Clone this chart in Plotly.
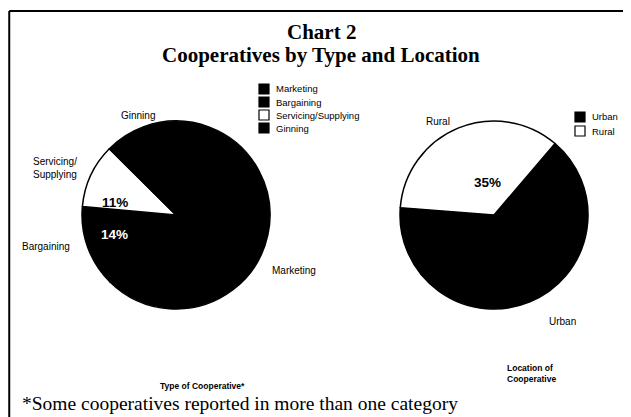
import plotly.graph_objects as go

# page is shown with the browser's 8px body margin, so the figure is laid
# out in window pixels and shifted by that margin
OFF = 8
W, H = 631 - OFF, 417 - OFF

# left pie: type of cooperative
type_labels = ['Marketing', 'Bargaining', 'Servicing/Supplying', 'Ginning']
type_values = [68, 14, 11, 7]
type_pct_text = ['', '14%', '11%', '']
type_colors = ['#000000', '#000000', '#ffffff', '#000000']
type_text_colors = ['#ffffff', '#ffffff', '#000000', '#ffffff']

# right pie: location of cooperative
loc_labels = ['Urban', 'Rural']
loc_values = [65, 35]
loc_pct_text = ['', '35%']
loc_colors = ['#000000', '#ffffff']
loc_text_colors = ['#ffffff', '#000000']


def px(x):
    return (x - OFF) / W


def py(y):
    return 1 - (y - OFF) / H


SANS = 'Arial, Liberation Sans, sans-serif'
SERIF = 'Times New Roman, Liberation Serif, serif'

fig = go.Figure()
fig.add_trace(go.Pie(
    labels=type_labels, values=type_values, sort=False,
    direction='clockwise', rotation=-20,
    marker=dict(colors=type_colors, line=dict(color='#000000', width=1.5)),
    textinfo='none',
    domain=dict(x=[px(82), px(270)], y=[py(309), py(121)]),
    showlegend=False, hoverinfo='label+value',
))
fig.add_trace(go.Pie(
    labels=loc_labels, values=loc_values, sort=False,
    direction='clockwise', rotation=40.5,
    marker=dict(colors=loc_colors, line=dict(color='#000000', width=1.5)),
    textinfo='none',
    domain=dict(x=[px(400), px(588)], y=[py(309), py(121)]),
    showlegend=False, hoverinfo='label+value',
))


def note(txt, x, y, fam=SANS, size=10, anchor='center', color='#000000'):
    fig.add_annotation(
        text=txt, x=px(x), y=py(y), xref='paper', yref='paper',
        xanchor=anchor, yanchor='middle', showarrow=False, align='left',
        font=dict(family=fam, size=size, color=color),
    )


# legend keys, drawn small and tight like the printed chart
def key_block(labels, colors, x0, y0, step):
    for i, (lab, col) in enumerate(zip(labels, colors)):
        yc = y0 + i * step
        fig.add_shape(type='rect', xref='paper', yref='paper',
                      x0=px(x0), x1=px(x0 + 10), y0=py(yc + 5), y1=py(yc - 5),
                      fillcolor=col, line=dict(color='#000000', width=1.2))
        note(lab, x0 + 15, yc, size=9.5, anchor='left')


key_block(type_labels, type_colors, 259, 89, 13)
key_block(loc_labels, loc_colors, 575, 117, 14)

# percentage labels inside the slices
pct_spots = [(type_pct_text[1], 114, 235, type_text_colors[1]),
             (type_pct_text[2], 115, 203, type_text_colors[2]),
             (loc_pct_text[1], 487, 183, loc_text_colors[1])]
for txt, x, y, col in pct_spots:
    note('<b>' + txt + '</b>', x, y, size=13.5, color=col)

note('<b>Chart 2</b>', 321, 32, SERIF, 21)
note('<b>Cooperatives by Type and Location</b>', 321, 55, SERIF, 21)
note('Ginning', 138, 115)
note('Servicing/<br>Supplying', 31, 168, anchor='left')
note('Bargaining', 20, 246, anchor='left')
note('Marketing', 270, 270, anchor='left')
note('Rural', 438, 121)
note('Urban', 562, 321)
note('<b>Type of Cooperative*</b>', 202, 386, size=8.5)
note('<b>Location of<br>Cooperative</b>', 505, 373, size=8.5, anchor='left')
note('*Some cooperatives reported in more than one category', 20, 403, SERIF, 19.5, 'left')

# frame of the scanned page
fig.add_shape(type='line', xref='paper', yref='paper',
              x0=0.002, x1=1, y0=py(11), y1=py(11),
              line=dict(color='#000000', width=2))
fig.add_shape(type='line', xref='paper', yref='paper',
              x0=0.002, x1=0.002, y0=py(11), y1=0,
              line=dict(color='#000000', width=2))

fig.update_layout(
    width=W, height=H, margin=dict(t=0, b=0, l=0, r=0),
    paper_bgcolor='#ffffff', plot_bgcolor='#ffffff',
)

fig.write_html('out.html')
